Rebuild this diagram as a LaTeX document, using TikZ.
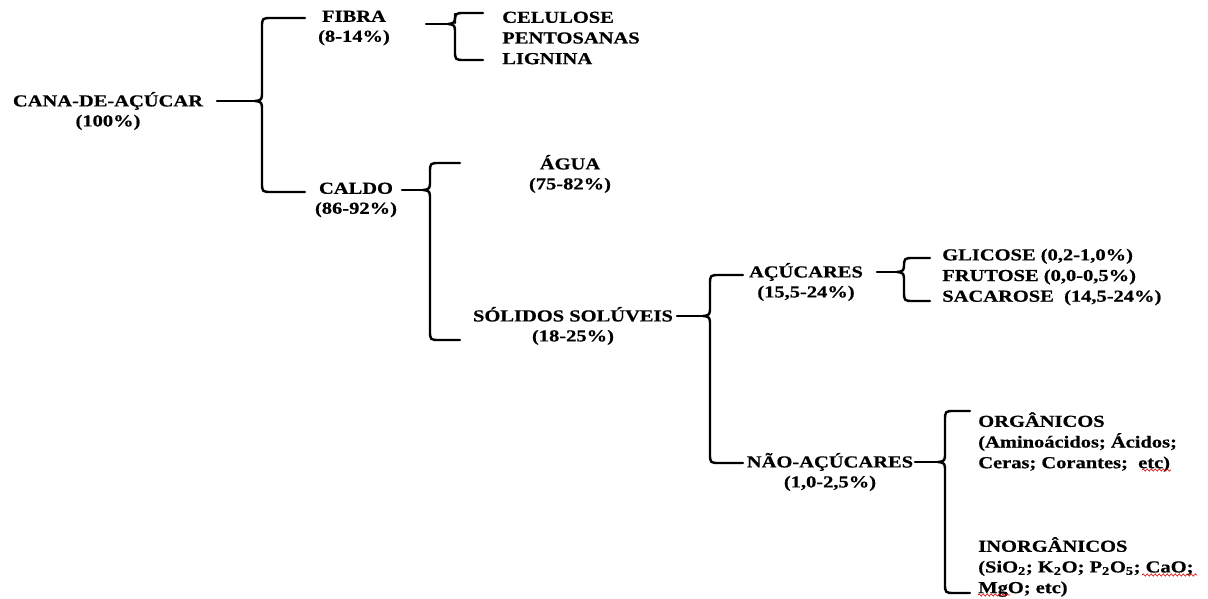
\documentclass[tikz,border=0pt]{standalone}
\usepackage{fontspec}
\setmainfont{Liberation Serif}[FakeStretch=1.22,FakeBold=0.6]
\usetikzlibrary{decorations.pathmorphing}
\begin{document}
\begin{tikzpicture}[x=0.75pt,y=-0.75pt,
  lbl/.style={font=\bfseries\fontsize{12.6}{15}\selectfont,inner sep=0pt,align=center},
  lst/.style={font=\bfseries\fontsize{12.6}{15.5}\selectfont,inner sep=0pt,align=left,anchor=west},
  br/.style={line width=1.8pt,line cap=round,line join=round},
  squig/.style={red!85!black,line width=0.5pt,decorate,decoration={snake,amplitude=0.8pt,segment length=3pt}}]
\useasboundingbox (0,0) rectangle (1208,599);
% brace: #1 stem start, #2 vertical x, #3 arm end x, #4 top, #5 cusp, #6 bottom
\newcommand\mybrace[6]{%
  \draw[br] (#1,#5) -- (#2-7,#5);
  \draw[br] (#3,#4) -- (#2+10,#4) .. controls (#2,#4) .. (#2,#4+10) -- (#2,#5-10) .. controls (#2,#5-1) .. (#2-7,#5)
            .. controls (#2,#5+1) .. (#2,#5+10) -- (#2,#6-10) .. controls (#2,#6) .. (#2+10,#6) -- (#3,#6);}
% nodes
\node[lbl] (cana) at (108,111) {CANA-DE-AÇÚCAR\\(100\%)};
\node[lbl] (fibra) at (354,28) {FIBRA\\(8-14\%)};
\node[lbl] (caldo) at (356,200) {CALDO\\(86-92\%)};
\node[lst] (fib) at (502,38) {CELULOSE\\PENTOSANAS\\LIGNINA};
\node[lbl] (agua) at (570,174) {ÁGUA\\(75-82\%)};
\node[lbl] (solidos) at (573,326) {SÓLIDOS SOLÚVEIS\\(18-25\%)};
\node[lbl] (acucares) at (806,282) {AÇÚCARES\\(15,5-24\%)};
\node[lst] (acs) at (942,277) {GLICOSE (0,2-1,0\%)\\FRUTOSE (0,0-0,5\%)\\SACAROSE\ \ (14,5-24\%)};
\node[lbl] (nao) at (830,472) {NÃO-AÇÚCARES\\(1,0-2,5\%)};
\node[lst] (org) at (978,442) {ORGÂNICOS\\(Aminoácidos; Ácidos;\\Ceras; Corantes;\ \ etc)};
\node[lst] (inorg) at (978,567) {INORGÂNICOS\\(SiO\textsubscript{2}; K\textsubscript{2}O; P\textsubscript{2}O\textsubscript{5}; CaO;\\MgO; etc)};
% braces
\mybrace{217}{262}{305}{18}{101}{192}
\mybrace{426}{455}{483}{13}{24}{60}
\mybrace{402}{430}{460}{163}{190}{340}
\mybrace{677}{710}{743}{275}{316}{463}
\mybrace{877}{904}{930}{258}{272}{301}
\mybrace{915}{945}{970}{411}{462}{593}
% spell-check marks
\draw[squig] (1142,470) -- (1171,470);
\draw[squig] (1142,575) -- (1197,575);
\draw[squig] (978,595) -- (1010,595);
\end{tikzpicture}
\end{document}
